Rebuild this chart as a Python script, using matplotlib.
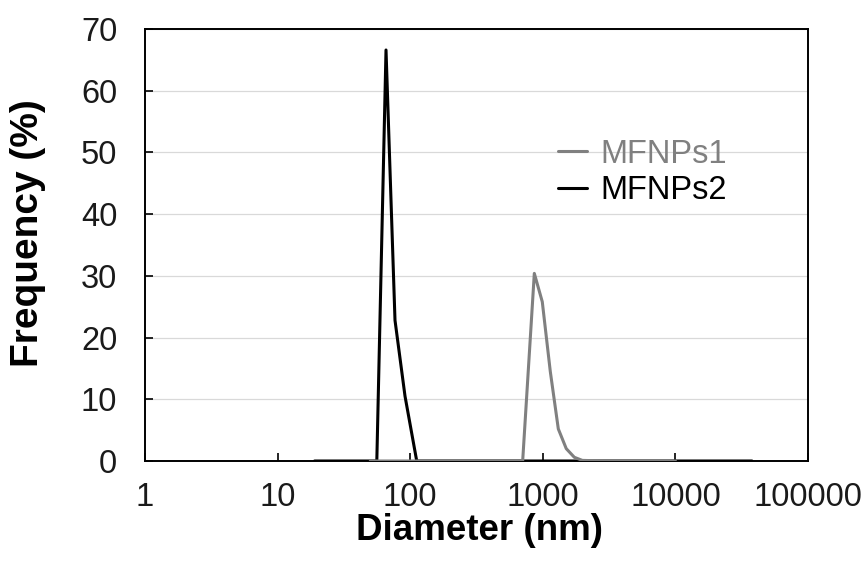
import matplotlib
matplotlib.use("Agg")
import matplotlib.pyplot as plt

# Particle size distributions (diameter in nm, frequency in %)
mfnps1_diameter = [50, 200, 500, 705, 863, 991, 1139, 1309, 1503, 1729, 1986, 3000, 10000]
mfnps1_frequency = [0, 0, 0, 0, 30.4, 25.8, 14.5, 5.2, 2.0, 0.6, 0.1, 0, 0]

mfnps2_diameter = [19, 30, 45, 56, 65.7, 76.8, 91.4, 112, 200, 1000, 10000, 37800]
mfnps2_frequency = [0, 0, 0, 0, 66.6, 22.8, 10.5, 0, 0, 0, 0, 0]

series_labels = ["MFNPs1", "MFNPs2"]
series_colors = ["#808080", "#000000"]

x_ticks = [1, 10, 100, 1000, 10000, 100000]
x_tick_labels = ["1", "10", "100", "1000", "10000", "100000"]
y_ticks = [0, 10, 20, 30, 40, 50, 60, 70]

plt.rcParams["font.family"] = ["Liberation Sans", "DejaVu Sans"]

fig = plt.figure(figsize=(8.64, 5.69), dpi=100)
ax = fig.add_axes([145 / 864, 1 - 461 / 569, (808 - 145) / 864, (461 - 29) / 569])

line2, = ax.plot(mfnps2_diameter, mfnps2_frequency, color=series_colors[1], lw=2.2,
                 solid_joinstyle="round", solid_capstyle="round", zorder=3)
line1, = ax.plot(mfnps1_diameter, mfnps1_frequency, color=series_colors[0], lw=2.2,
                 solid_joinstyle="round", solid_capstyle="round", zorder=4)

ax.set_xscale("log")
ax.set_xlim(1, 100000)
ax.set_ylim(0, 70)
ax.set_xticks(x_ticks)
ax.set_xticklabels(x_tick_labels)
ax.xaxis.set_minor_locator(matplotlib.ticker.NullLocator())
ax.set_yticks(y_ticks)

ax.yaxis.grid(True, color="#d9d9d9", lw=0.9, zorder=0)
ax.set_axisbelow(True)

for side in ["left", "right", "top", "bottom"]:
    ax.spines[side].set_linewidth(1.4)
    ax.spines[side].set_color("#000000")

ax.tick_params(axis="x", direction="in", length=6, width=1.2, labelsize=23.5, pad=15,
               top=False, colors="#000000")
ax.tick_params(axis="y", direction="in", length=6, width=1.2, labelsize=23.5, pad=20,
               right=False, colors="#000000")
for lbl in ax.get_xticklabels() + ax.get_yticklabels():
    lbl.set_color("#1a1a1a")

fig.text(480 / 864, 1 - 530 / 569, "Diameter (nm)", ha="center", va="center",
         fontsize=26.5, fontweight="bold")
fig.text(28 / 864, 1 - 233 / 569, "Frequency (%)", ha="center", va="center",
         rotation=90, fontsize=28, fontweight="bold")

leg = ax.legend([line1, line2], series_labels, loc="upper left",
                bbox_to_anchor=(0.623, 0.7465), frameon=False, fontsize=23.5,
                handlelength=0.89, handletextpad=0.4, labelspacing=0.17,
                borderaxespad=0, borderpad=0)
for txt, col in zip(leg.get_texts(), series_colors):
    txt.set_color(col)

fig.savefig("out.png", dpi=100)
